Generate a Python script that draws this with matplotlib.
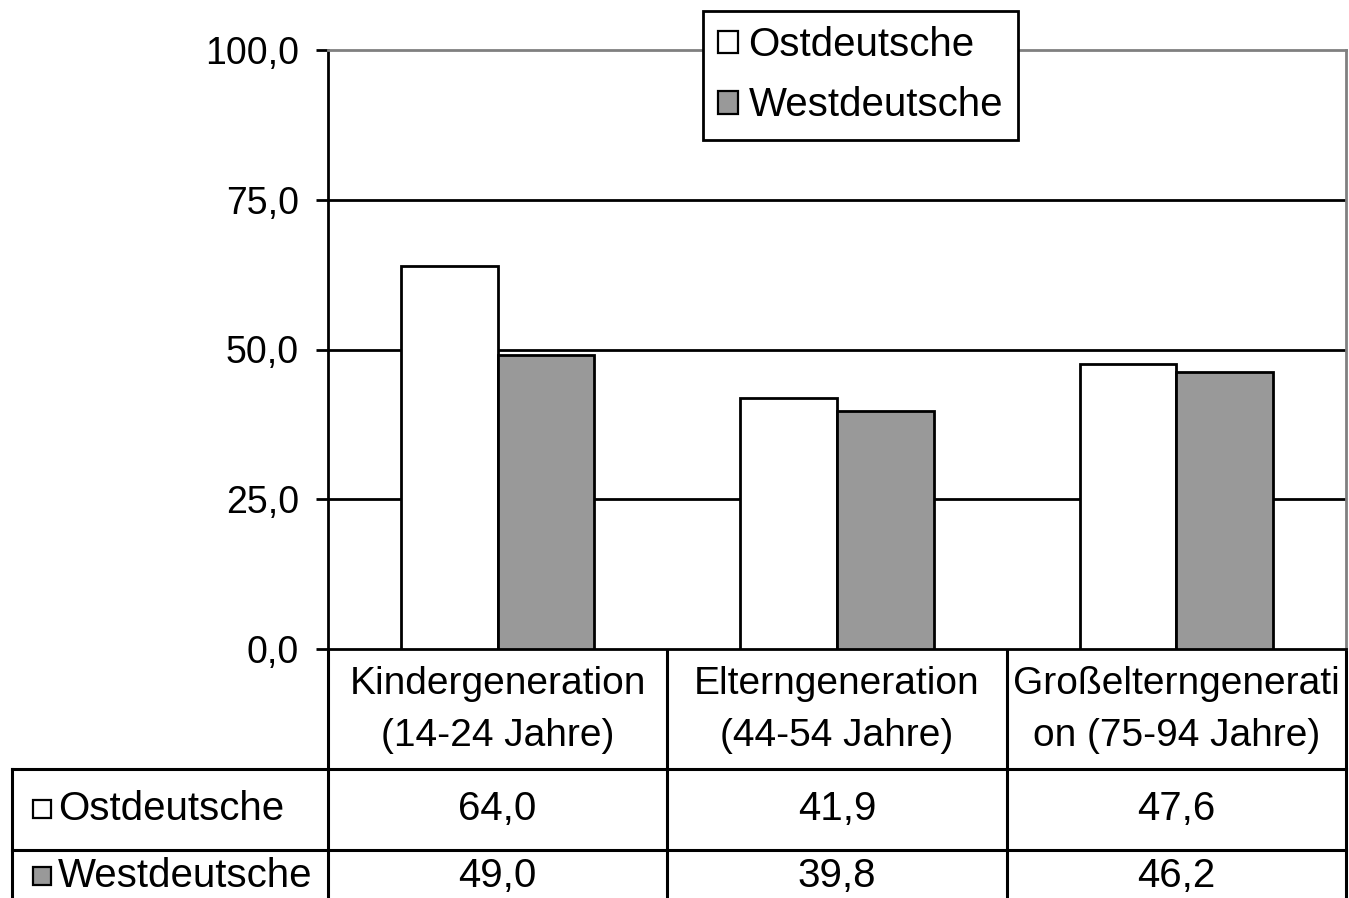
import matplotlib
matplotlib.use("Agg")
import matplotlib.pyplot as plt
from matplotlib.patches import Rectangle

plt.rcParams['font.family'] = ['Liberation Sans', 'DejaVu Sans']

# data
categories = ["Kindergeneration\n(14-24 Jahre)",
              "Elterngeneration\n(44-54 Jahre)",
              "Großelterngenerati\non (75-94 Jahre)"]
series = ["Ostdeutsche", "Westdeutsche"]
ost = [64.0, 41.9, 47.6]
west = [49.0, 39.8, 46.2]
yticks = [0, 25, 50, 75, 100]

colors = ["white", "#999999"]
W, H = 1349, 898
FS_TICK = 27
FS = 29


def de(v):
    return "{:.1f}".format(v).replace(".", ",")


fig = plt.figure(figsize=(W / 100, H / 100), dpi=100)

# plot area in pixel units of the image
left, right, top, bottom = 328, 1346, 50, 649
ax = fig.add_axes([left / W, 1 - bottom / H, (right - left) / W, (bottom - top) / H])

n = len(categories)
bw = 0.285
xs = [i + 0.5 for i in range(n)]
lw = 2.0
for vals, col, off in [(ost, colors[0], -bw / 2), (west, colors[1], bw / 2)]:
    ax.bar([x + off for x in xs], vals, width=bw, color=col,
           edgecolor="black", linewidth=lw, zorder=3)

ax.set_xlim(0, n)
ax.set_ylim(0, 100)
ax.set_yticks(yticks)
ax.set_yticklabels([de(v) for v in yticks], fontsize=FS_TICK)
ax.set_xticks([])
for y in yticks[1:-1]:
    ax.axhline(y, color="black", linewidth=lw, zorder=1)
ax.tick_params(axis="y", direction="out", length=9, width=lw, pad=12)
ax.spines["left"].set_linewidth(lw)
ax.spines["bottom"].set_linewidth(lw)
for s in ["top", "right"]:
    ax.spines[s].set_color("#808080")
    ax.spines[s].set_linewidth(lw)

# legend
handles = [Rectangle((0, 0), 1, 1, facecolor=c, edgecolor="black", linewidth=1.6)
           for c in colors]
leg = fig.legend(handles, series, loc="upper left",
                 bbox_to_anchor=(703 / W, 1 - 11 / H), fontsize=FS,
                 frameon=True, fancybox=False, borderpad=0.38, framealpha=1,
                 handlelength=0.5, handleheight=0.5, handletextpad=0.25,
                 labelspacing=0.55, borderaxespad=0)
leg.get_frame().set_edgecolor("black")
leg.get_frame().set_linewidth(lw)

# data table below the plot, drawn on an overlay in pixel coordinates
ov = fig.add_axes([0, 0, 1, 1], zorder=-1)
ov.set_xlim(0, W)
ov.set_ylim(H, 0)
ov.axis("off")

col_edges = [left + (right - left) * i / n for i in range(n + 1)]
head_bot, row1_bot, tab_left = 769, 850, 12
tlw = 2.2
for x in col_edges:
    ov.plot([x, x], [bottom, H], color="black", lw=tlw)
ov.plot([tab_left, tab_left], [head_bot, H], color="black", lw=tlw)
ov.plot([tab_left, right], [head_bot, head_bot], color="black", lw=tlw)
ov.plot([tab_left, right], [row1_bot, row1_bot], color="black", lw=tlw)

centers = [(col_edges[i] + col_edges[i + 1]) / 2 for i in range(n)]
for cx, cat in zip(centers, categories):
    ov.text(cx, (bottom + head_bot) / 2 + 1, cat, ha="center", va="center",
            fontsize=FS - 1, linespacing=1.55)

row_y = [809, 876]
for ry, name, col, vals in zip(row_y, series, colors, [ost, west]):
    ov.add_patch(Rectangle((33, ry - 9), 18, 18, facecolor=col,
                           edgecolor="black", linewidth=1.6))
    ov.text(58, ry, name, ha="left", va="center", fontsize=FS)
    for cx, v in zip(centers, vals):
        ov.text(cx, ry, de(v), ha="center", va="center", fontsize=FS)

fig.savefig("out.png", dpi=100)
